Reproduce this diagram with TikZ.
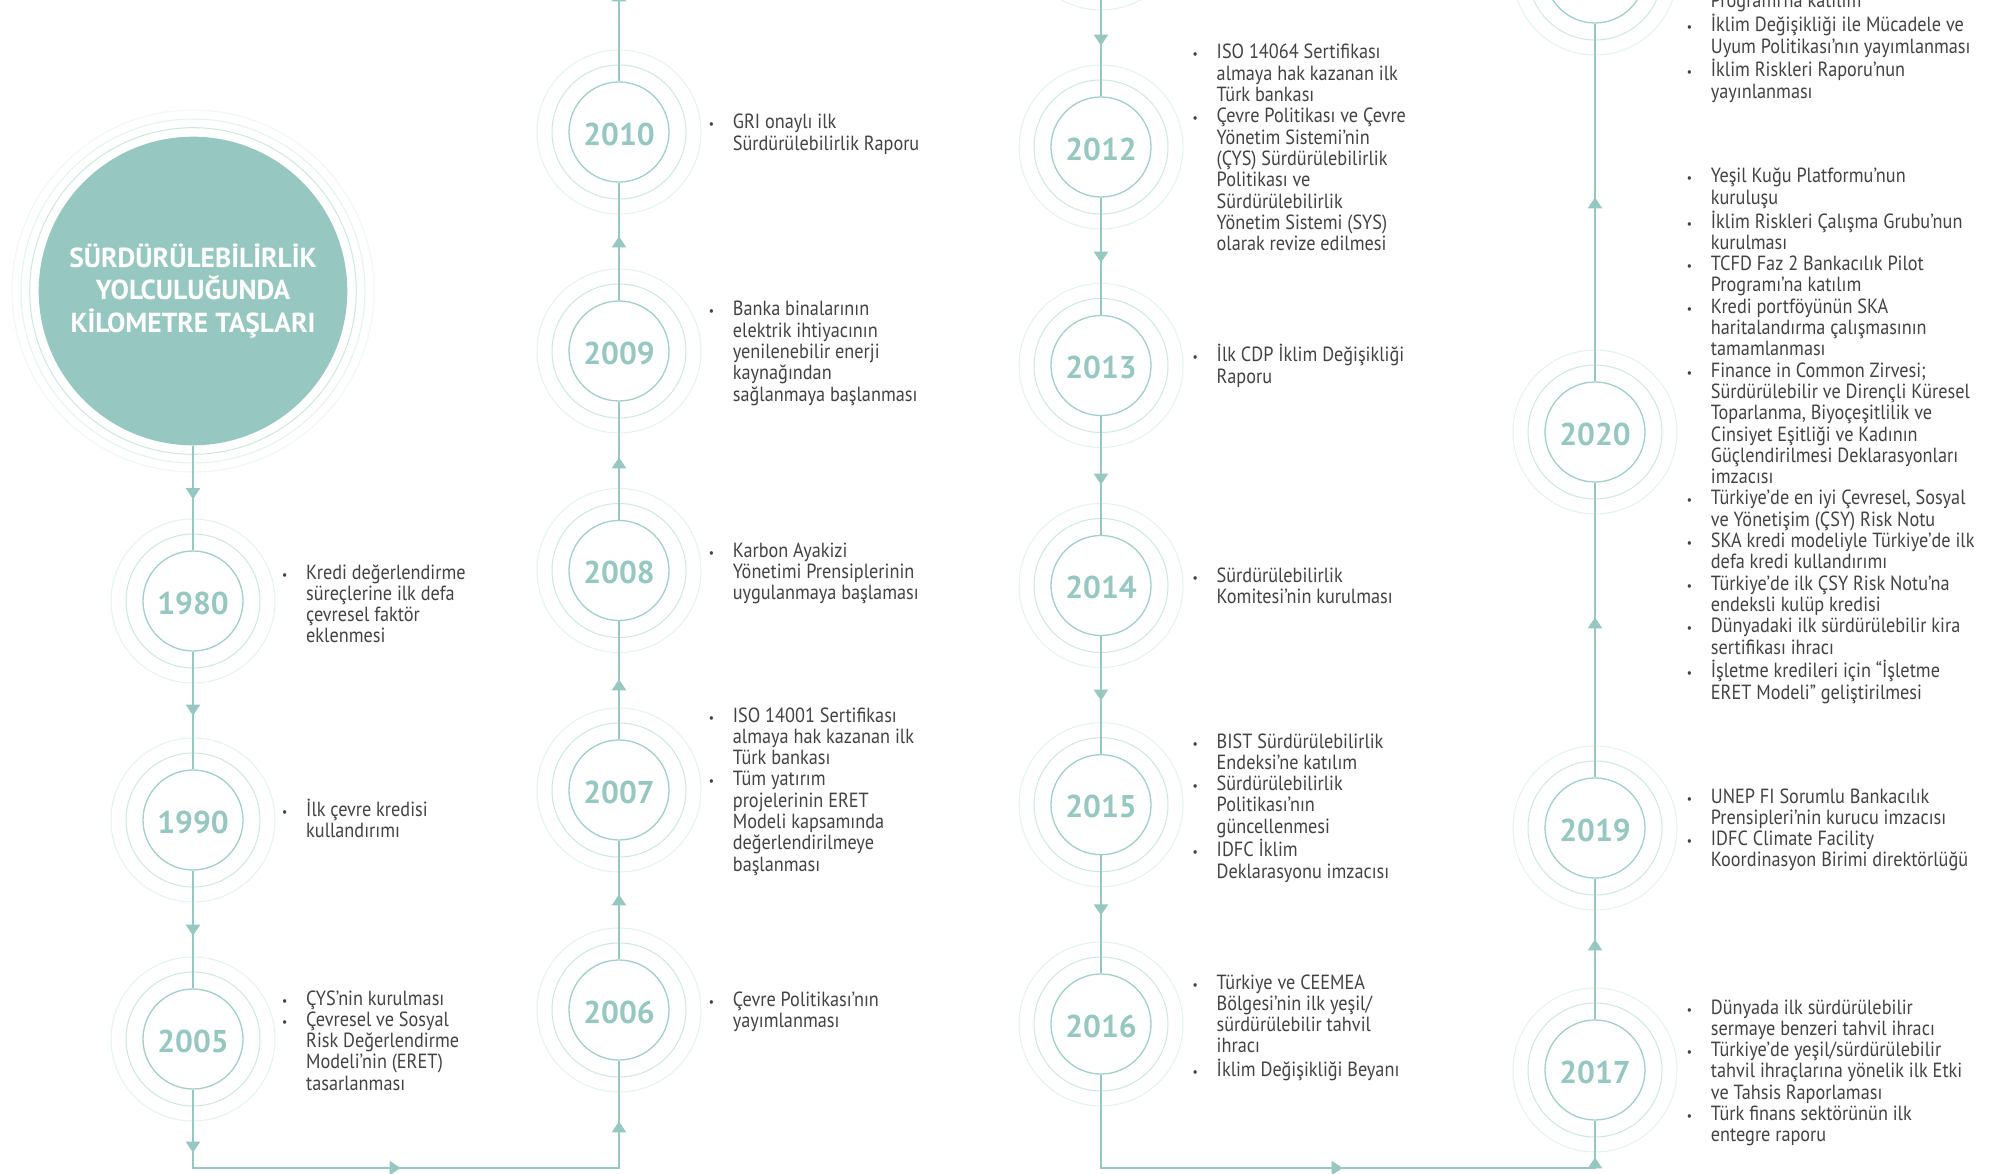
\documentclass[tikz,border=0pt]{standalone}
\usepackage{fontspec}
\setmainfont{PT Sans}
\newfontfamily\bodyf{PT Sans}[FakeStretch=0.89]
\usetikzlibrary{decorations.markings,arrows.meta}
\definecolor{tealA}{RGB}{150,199,193}
\definecolor{ringA}{RGB}{162,207,201}
\definecolor{ringB}{RGB}{207,231,227}
\definecolor{ringC}{RGB}{230,242,240}
\definecolor{ringD}{RGB}{240,247,246}
\definecolor{txt}{RGB}{66,66,66}
\newcommand{\bl}{\makebox[24pt][l]{\fontsize{13}{13}\selectfont •}}
\newcommand{\nb}{\hspace*{24pt}}
\tikzset{
  yearc/.style={circle, draw=ringA, line width=1.3pt, fill=white, minimum size=100pt, inner sep=0pt,
    text height=26.5pt, text depth=0pt,
    font=\fontsize{31.5}{31.5}\selectfont\bfseries, text=tealA},
  flow/.style={draw=tealA, line width=2pt, line join=miter},
  tipat/.style={postaction={decorate}, decoration={markings,
    mark=at position #1 with {\arrow[tealA]{Triangle[width=14pt,length=11pt]}}}},
  tipsat/.style 2 args={postaction={decorate}, decoration={markings,
    mark=at position #1 with {\arrow[tealA]{Triangle[width=14pt,length=11pt]}},
    mark=at position #2 with {\arrow[tealA]{Triangle[width=14pt,length=11pt]}}}},
  tipsthree/.style n args={3}{postaction={decorate}, decoration={markings,
    mark=at position #1 with {\arrow[tealA]{Triangle[width=14pt,length=11pt]}},
    mark=at position #2 with {\arrow[tealA]{Triangle[width=14pt,length=11pt]}},
    mark=at position #3 with {\arrow[tealA]{Triangle[width=14pt,length=11pt]}}}},
  txtblock/.style={inner sep=0pt, anchor=base west, font=\bodyf\fontsize{20.5}{21.3}\selectfont, text=txt},
}
\begin{document}
\begin{tikzpicture}[x=1pt,y=-1pt]
\fill[white] (0,0) rectangle (1995,1174);
\useasboundingbox (0,0) rectangle (1995,1174);

% title circle
\node[circle, fill=tealA, minimum size=308.6pt, inner sep=0pt, text=white, align=center,
  font=\fontsize{27.5}{32.5}\selectfont\bfseries] (big) at (193,291)
  {SÜRDÜRÜLEBİLİRLİK\\YOLCULUĞUNDA\\KİLOMETRE TAŞLARI};
\draw[ringB, line width=1pt] (big.center) circle[radius=163.3pt];
\draw[ringC, line width=1pt] (big.center) circle[radius=172pt];
\draw[ringD, line width=1pt] (big.center) circle[radius=181pt];

% year circles
\node[yearc] (c1980) at (193,601) {1980};
\node[yearc] (c1990) at (193,820) {1990};
\node[yearc] (c2005) at (193,1039) {2005};
\node[yearc] (c2006) at (619,1010) {2006};
\node[yearc] (c2007) at (619,790) {2007};
\node[yearc] (c2008) at (619,570.5) {2008};
\node[yearc] (c2009) at (619,351) {2009};
\node[yearc] (c2010) at (619,132) {2010};
\node[yearc] (c2011) at (1101,-72) {};
\node[yearc] (c2012) at (1101,147) {2012};
\node[yearc] (c2013) at (1101,365.5) {2013};
\node[yearc] (c2014) at (1101,585.5) {2014};
\node[yearc] (c2015) at (1101,804.7) {2015};
\node[yearc] (c2016) at (1101,1024) {2016};
\node[yearc] (c2017) at (1595,1070) {2017};
\node[yearc] (c2019) at (1595,828) {2019};
\node[yearc] (c2020) at (1595,432) {2020};
\node[yearc] (c2021) at (1595,-27) {};

\foreach \n in {c1980,c1990,c2005,c2006,c2007,c2008,c2009,c2010,c2011,c2012,c2013,c2014,c2015,c2016,c2017,c2019,c2020,c2021}{
  \draw[ringB, line width=1pt] (\n.center) circle[radius=67pt];
  \draw[ringC, line width=1pt] (\n.center) circle[radius=82pt];
}

% corner and end coordinates
\coordinate (A) at (193,1168);
\coordinate (B) at (619,1168);
\coordinate (C) at (1101,1168);
\coordinate (D) at (1595,1168);
\coordinate (T2) at (619,-30);

% connectors
\draw[flow, tipat=53.7pt] (big.south) -- (c1980.north);
\draw[flow, tipat=64pt] (c1980.south) -- (c1990.north);
\draw[flow, tipat=65pt] (c1990.south) -- (c2005.north);
\draw[flow, tipsthree={63pt}{286pt}{551pt}] (c2005.south) -- (A) -- (B) -- (c2006.south);
\draw[flow, tipat=65pt] (c2006.north) -- (c2007.south);
\draw[flow, tipat=60pt] (c2007.north) -- (c2008.south);
\draw[flow, tipat=62.5pt] (c2008.north) -- (c2009.south);
\draw[flow, tipat=64pt] (c2009.north) -- (c2010.south);
\draw[flow, tipat=91pt] (c2010.north) -- (T2);
\draw[flow, tipat=67pt] (c2011.south) -- (c2012.north);
\draw[flow, tipat=65pt] (c2012.south) -- (c2013.north);
\draw[flow, tipat=68.5pt] (c2013.south) -- (c2014.north);
\draw[flow, tipat=64.5pt] (c2014.south) -- (c2015.north);
\draw[flow, tipat=60pt] (c2015.south) -- (c2016.north);
\draw[flow, tipsat={335pt}{598pt}] (c2016.south) -- (C) -- (D) -- (c2017.south);
\draw[flow, tipat=80pt] (c2017.north) -- (c2019.south);
\draw[flow, tipat=160pt] (c2019.north) -- (c2020.south);
\draw[flow, tipat=184pt] (c2020.north) -- (c2021.south);

% texts column 1
\node[txtblock] (t1980) at (282,579) {\begin{tabular}[t]{@{}l@{}}
\bl Kredi değerlendirme\\ \nb süreçlerine ilk defa\\ \nb çevresel faktör\\ \nb eklenmesi\end{tabular}};
\node[txtblock] (t1990) at (282,816) {\begin{tabular}[t]{@{}l@{}}
\bl İlk çevre kredisi\\ \nb kullandırımı\end{tabular}};
\node[txtblock] (t2005) at (282,1005) {\begin{tabular}[t]{@{}l@{}}
\bl ÇYS’nin kurulması\\ \bl Çevresel ve Sosyal\\ \nb Risk Değerlendirme\\ \nb Modeli’nin (ERET)\\ \nb tasarlanması\end{tabular}};

% texts column 2
\node[txtblock] (t2010) at (708.7,129) {\begin{tabular}[t]{@{}l@{}}
\bl GRI onaylı ilk\\ \nb Sürdürülebilirlik Raporu\end{tabular}};
\node[txtblock] (t2009) at (708.7,316) {\begin{tabular}[t]{@{}l@{}}
\bl Banka binalarının\\ \nb elektrik ihtiyacının\\ \nb yenilenebilir enerji\\ \nb kaynağından\\ \nb sağlanmaya başlanması\end{tabular}};
\node[txtblock] (t2008) at (708.7,557) {\begin{tabular}[t]{@{}l@{}}
\bl Karbon Ayakizi\\ \nb Yönetimi Prensiplerinin\\ \nb uygulanmaya başlaması\end{tabular}};
\node[txtblock] (t2007) at (708.7,722) {\begin{tabular}[t]{@{}l@{}}
\bl ISO 14001 Sertifikası\\ \nb almaya hak kazanan ilk\\ \nb Türk bankası\\ \bl Tüm yatırım\\ \nb projelerinin ERET\\ \nb Modeli kapsamında\\ \nb değerlendirilmeye\\ \nb başlanması\end{tabular}};
\node[txtblock] (t2006) at (708.7,1006) {\begin{tabular}[t]{@{}l@{}}
\bl Çevre Politikası’nın\\ \nb yayımlanması\end{tabular}};

% texts column 3
\node[txtblock] (t2012) at (1192.5,59) {\begin{tabular}[t]{@{}l@{}}
\bl ISO 14064 Sertifikası\\ \nb almaya hak kazanan ilk\\ \nb Türk bankası\\ \bl Çevre Politikası ve Çevre\\ \nb Yönetim Sistemi’nin\\ \nb (ÇYS) Sürdürülebilirlik\\ \nb Politikası ve\\ \nb Sürdürülebilirlik\\ \nb Yönetim Sistemi (SYS)\\ \nb olarak revize edilmesi\end{tabular}};
\node[txtblock] (t2013) at (1192.5,362) {\begin{tabular}[t]{@{}l@{}}
\bl İlk CDP İklim Değişikliği\\ \nb Raporu\end{tabular}};
\node[txtblock] (t2014) at (1192.5,582) {\begin{tabular}[t]{@{}l@{}}
\bl Sürdürülebilirlik\\ \nb Komitesi’nin kurulması\end{tabular}};
\node[txtblock] (t2015) at (1192.5,748) {\begin{tabular}[t]{@{}l@{}}
\bl BIST Sürdürülebilirlik\\ \nb Endeksi’ne katılım\\ \bl Sürdürülebilirlik\\ \nb Politikası’nın\\ \nb güncellenmesi\\ \bl IDFC İklim\\ \nb Deklarasyonu imzacısı\end{tabular}};
\node[txtblock] (t2016) at (1192.5,989) {\begin{tabular}[t]{@{}l@{}}
\bl Türkiye ve CEEMEA\\ \nb Bölgesi’nin ilk yeşil/\\ \nb sürdürülebilir tahvil\\ \nb ihracı\\ \bl İklim Değişikliği Beyanı\end{tabular}};

% texts column 4
\node[txtblock] (t2021) at (1686.7,8) {\begin{tabular}[t]{@{}l@{}}
\nb Programı’na katılım\\ \bl İklim Değişikliği ile Mücadele ve\\ \nb Uyum Politikası’nın yayımlanması\\ \bl İklim Riskleri Raporu’nun\\ \nb yayınlanması\end{tabular}};
\node[txtblock] (t2020) at (1686.7,183) {\begin{tabular}[t]{@{}l@{}}
\bl Yeşil Kuğu Platformu’nun\\ \nb kuruluşu\\ \bl İklim Riskleri Çalışma Grubu’nun\\ \nb kurulması\\ \bl TCFD Faz 2 Bankacılık Pilot\\ \nb Programı’na katılım\\ \bl Kredi portföyünün SKA\\ \nb haritalandırma çalışmasının\\ \nb tamamlanması\\ \bl Finance in Common Zirvesi;\\ \nb Sürdürülebilir ve Dirençli Küresel\\ \nb Toparlanma, Biyoçeşitlilik ve\\ \nb Cinsiyet Eşitliği ve Kadının\\ \nb Güçlendirilmesi Deklarasyonları\\ \nb imzacısı\\ \bl Türkiye’de en iyi Çevresel, Sosyal\\ \nb ve Yönetişim (ÇSY) Risk Notu\\ \bl SKA kredi modeliyle Türkiye’de ilk\\ \nb defa kredi kullandırımı\\ \bl Türkiye’de ilk ÇSY Risk Notu’na\\ \nb endeksli kulüp kredisi\\ \bl Dünyadaki ilk sürdürülebilir kira\\ \nb sertifikası ihracı\\ \bl İşletme kredileri için “İşletme\\ \nb ERET Modeli” geliştirilmesi\end{tabular}};
\node[txtblock] (t2019) at (1686.7,803) {\begin{tabular}[t]{@{}l@{}}
\bl UNEP FI Sorumlu Bankacılık\\ \nb Prensipleri’nin kurucu imzacısı\\ \bl IDFC Climate Facility\\ \nb Koordinasyon Birimi direktörlüğü\end{tabular}};
\node[txtblock] (t2017) at (1686.7,1014) {\begin{tabular}[t]{@{}l@{}}
\bl Dünyada ilk sürdürülebilir\\ \nb sermaye benzeri tahvil ihracı\\ \bl Türkiye’de yeşil/sürdürülebilir\\ \nb tahvil ihraçlarına yönelik ilk Etki\\ \nb ve Tahsis Raporlaması\\ \bl Türk finans sektörünün ilk\\ \nb entegre raporu\end{tabular}};
\end{tikzpicture}
\end{document}
